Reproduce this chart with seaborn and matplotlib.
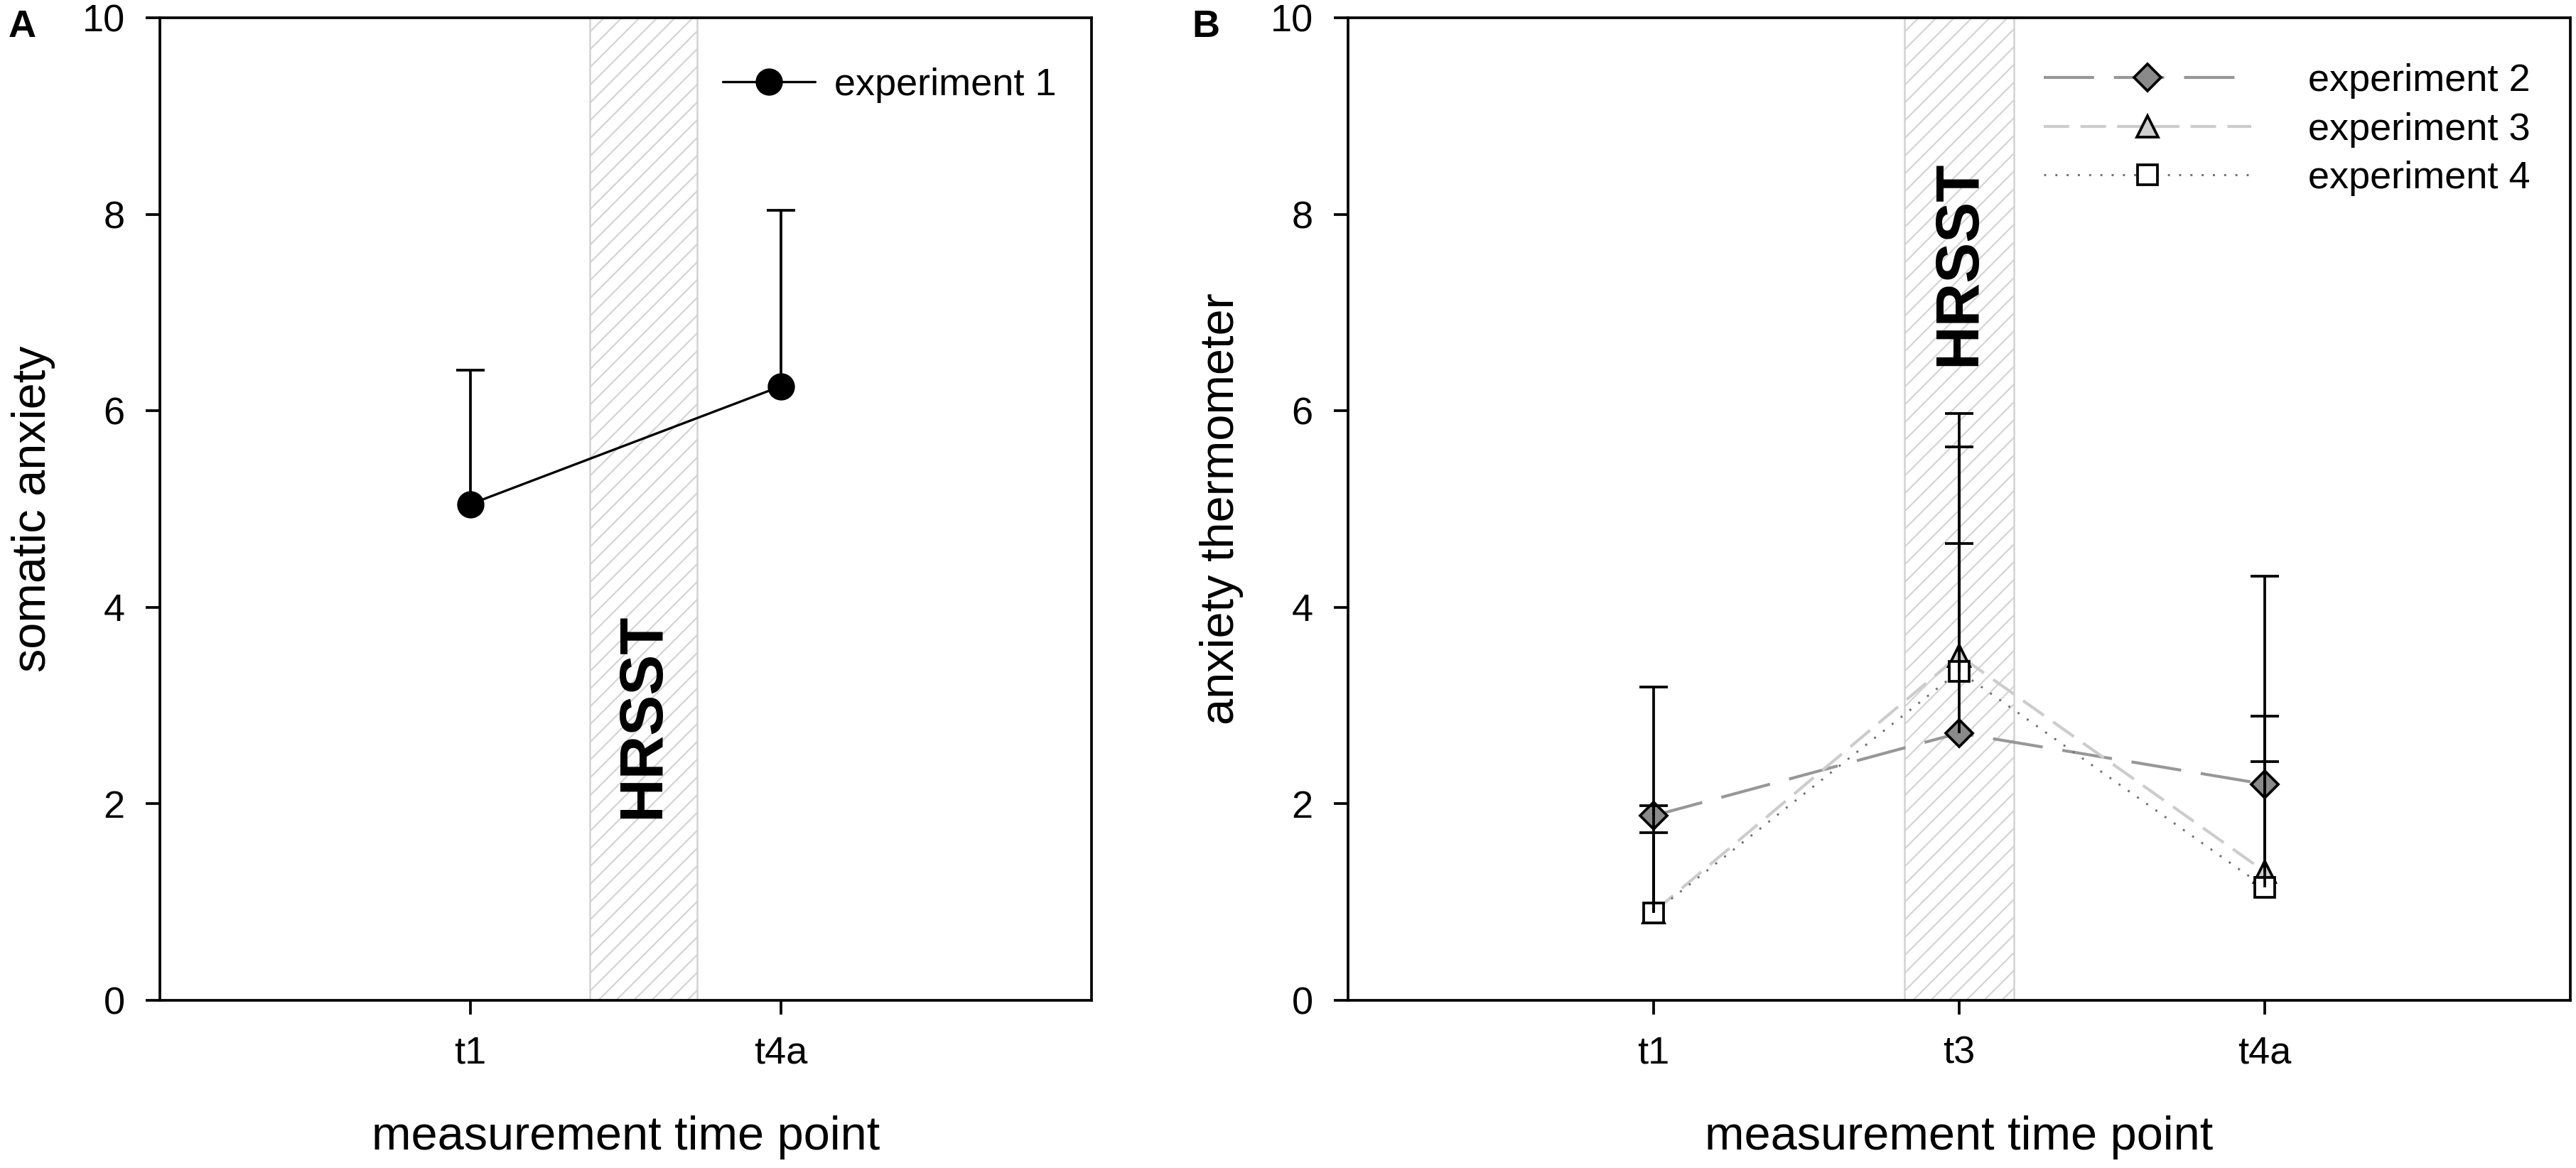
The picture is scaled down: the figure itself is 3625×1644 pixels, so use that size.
import numpy as np
import pandas as pd
import matplotlib
matplotlib.use("Agg")
import matplotlib.pyplot as plt
import seaborn as sns

# ---------------- data ----------------
time_a = ["t1", "t4a"]
exp1_mean = [5.05, 6.25]
exp1_upper = [6.41, 8.04]

time_b = ["t1", "t3", "t4a"]
exp2_mean = [1.88, 2.72, 2.20]
exp2_upper = [3.19, 4.65, 4.32]
exp3_mean = [0.90, 3.51, 1.31]
exp3_upper = [1.98, 5.97, 2.89]
exp4_mean = [0.89, 3.35, 1.15]
exp4_upper = [1.71, 5.63, 2.43]

yticks = [0, 2, 4, 6, 8, 10]
series_a = ["experiment 1"]
series_b = ["experiment 2", "experiment 3", "experiment 4"]

# ---------------- style ----------------
sns.set_style("ticks")
plt.rcParams.update({
    "font.family": ["Liberation Sans", "DejaVu Sans"],
    "axes.linewidth": 0.9,
    "hatch.linewidth": 0.5,
    "lines.scale_dashes": False,
    "axes.edgecolor": "black",
    "xtick.color": "black",
    "ytick.color": "black",
    "text.color": "black",
    "axes.labelcolor": "black",
})

fig = plt.figure(figsize=(3625 / 300, 1644 / 300), dpi=300)
ax_a = fig.add_axes([225 / 3625, 236 / 1644, (1536 - 225) / 3625, (1408 - 25) / 1644])
ax_b = fig.add_axes([1897 / 3625, 236 / 1644, (3617 - 1897) / 3625, (1408 - 25) / 1644])

df_a = pd.DataFrame({"pos": np.arange(len(time_a)), "mean": exp1_mean,
                     "upper": exp1_upper, "series": series_a[0]})
df_b = pd.concat([
    pd.DataFrame({"pos": np.arange(len(time_b)), "mean": m, "upper": u, "series": s})
    for s, m, u in zip(series_b, [exp2_mean, exp3_mean, exp4_mean],
                       [exp2_upper, exp3_upper, exp4_upper])
], ignore_index=True)

styles = {
    "experiment 1": dict(color="black", linestyle="-", lw=0.8, marker="o", markersize=8.3,
                         markerfacecolor="black"),
    "experiment 2": dict(color="#979797", linestyle=(0, (17, 6.7)), lw=1.0, marker="D",
                         markersize=6.5, markerfacecolor="#8a8a8a"),
    "experiment 3": dict(color="#cccccc", linestyle=(0, (8.6, 3.8)), lw=1.0, marker="^",
                         markersize=7.2, markerfacecolor="#cfcfcf"),
    "experiment 4": dict(color="#6f6f6f", linestyle=(0, (0.7, 3.1)), lw=0.7, marker="s",
                         markersize=6.7, markerfacecolor="white"),
}


def draw(ax, df, names):
    for name in names:
        d = df[df["series"] == name]
        st = styles[name]
        sns.lineplot(data=d, x="pos", y="mean", ax=ax, errorbar=None, sort=False,
                     color=st["color"], linestyle=st["linestyle"], linewidth=st["lw"],
                     marker=st["marker"], markersize=st["markersize"],
                     markerfacecolor=st["markerfacecolor"], markeredgecolor="black",
                     markeredgewidth=0.9, label=name, zorder=3)
    for name in names:
        d = df[df["series"] == name]
        eb = ax.errorbar(d["pos"], d["mean"],
                         yerr=[np.zeros(len(d)), d["upper"] - d["mean"]],
                         fmt="none", ecolor="black", elinewidth=0.9, capsize=4.7,
                         capthick=0.9, zorder=4)
        eb[1][0].set_visible(False)


# ---------------- panel A ----------------
ax_a.axvspan(0.385, 0.73, facecolor="white", edgecolor="#d2d2d2", hatch="////",
             lw=0.6, zorder=0)
ax_a.text(0.557, 2.9, "HRSST", rotation=90, ha="center", va="center",
          fontsize=20.5, fontweight="bold", zorder=2)
draw(ax_a, df_a, series_a)
ax_a.set_xlim(-1, len(time_a))
ax_a.set_xticks(np.arange(len(time_a)))
ax_a.set_xticklabels(time_a)
ax_a.set_ylabel("somatic anxiety", fontsize=16, labelpad=9)
ax_a.legend(loc="center left", bbox_to_anchor=(0.604, 0.931), frameon=False,
            fontsize=13, handlelength=2.4, handletextpad=0.5, borderpad=0,
            borderaxespad=0)

# ---------------- panel B ----------------
ax_b.axvspan(0.82, 1.18, facecolor="white", edgecolor="#d2d2d2", hatch="////",
             lw=0.6, zorder=0)
ax_b.text(1.0, 7.5, "HRSST", rotation=90, ha="center", va="center",
          fontsize=20.5, fontweight="bold", zorder=2)
draw(ax_b, df_b, series_b)
ax_b.set_xlim(-1, len(time_b))
ax_b.set_xticks(np.arange(len(time_b)))
ax_b.set_xticklabels(time_b)
ax_b.set_ylabel("anxiety thermometer", fontsize=16, labelpad=9)
ax_b.legend(loc="center left", bbox_to_anchor=(0.569, 0.886), frameon=False,
            fontsize=13, handlelength=5.4, handletextpad=1.48, borderpad=0,
            borderaxespad=0, labelspacing=0.34)

for ax in (ax_a, ax_b):
    ax.set_ylim(0, 10)
    ax.set_yticks(yticks)
    ax.set_xlabel("measurement time point", fontsize=16, labelpad=15)
    ax.tick_params(direction="out", length=4.8, width=0.9, labelsize=13, pad=7,
                   top=False, right=False)
    for sp in ax.spines.values():
        sp.set_visible(True)
        sp.set_linewidth(0.9)
        sp.set_color("black")

fig.text(12 / 3625, 1 - 52 / 1644, "A", fontsize=13, fontweight="bold", va="baseline")
fig.text(1677 / 3625, 1 - 52 / 1644, "B", fontsize=13, fontweight="bold", va="baseline")

fig.savefig("out.png", dpi=300, facecolor="white")
